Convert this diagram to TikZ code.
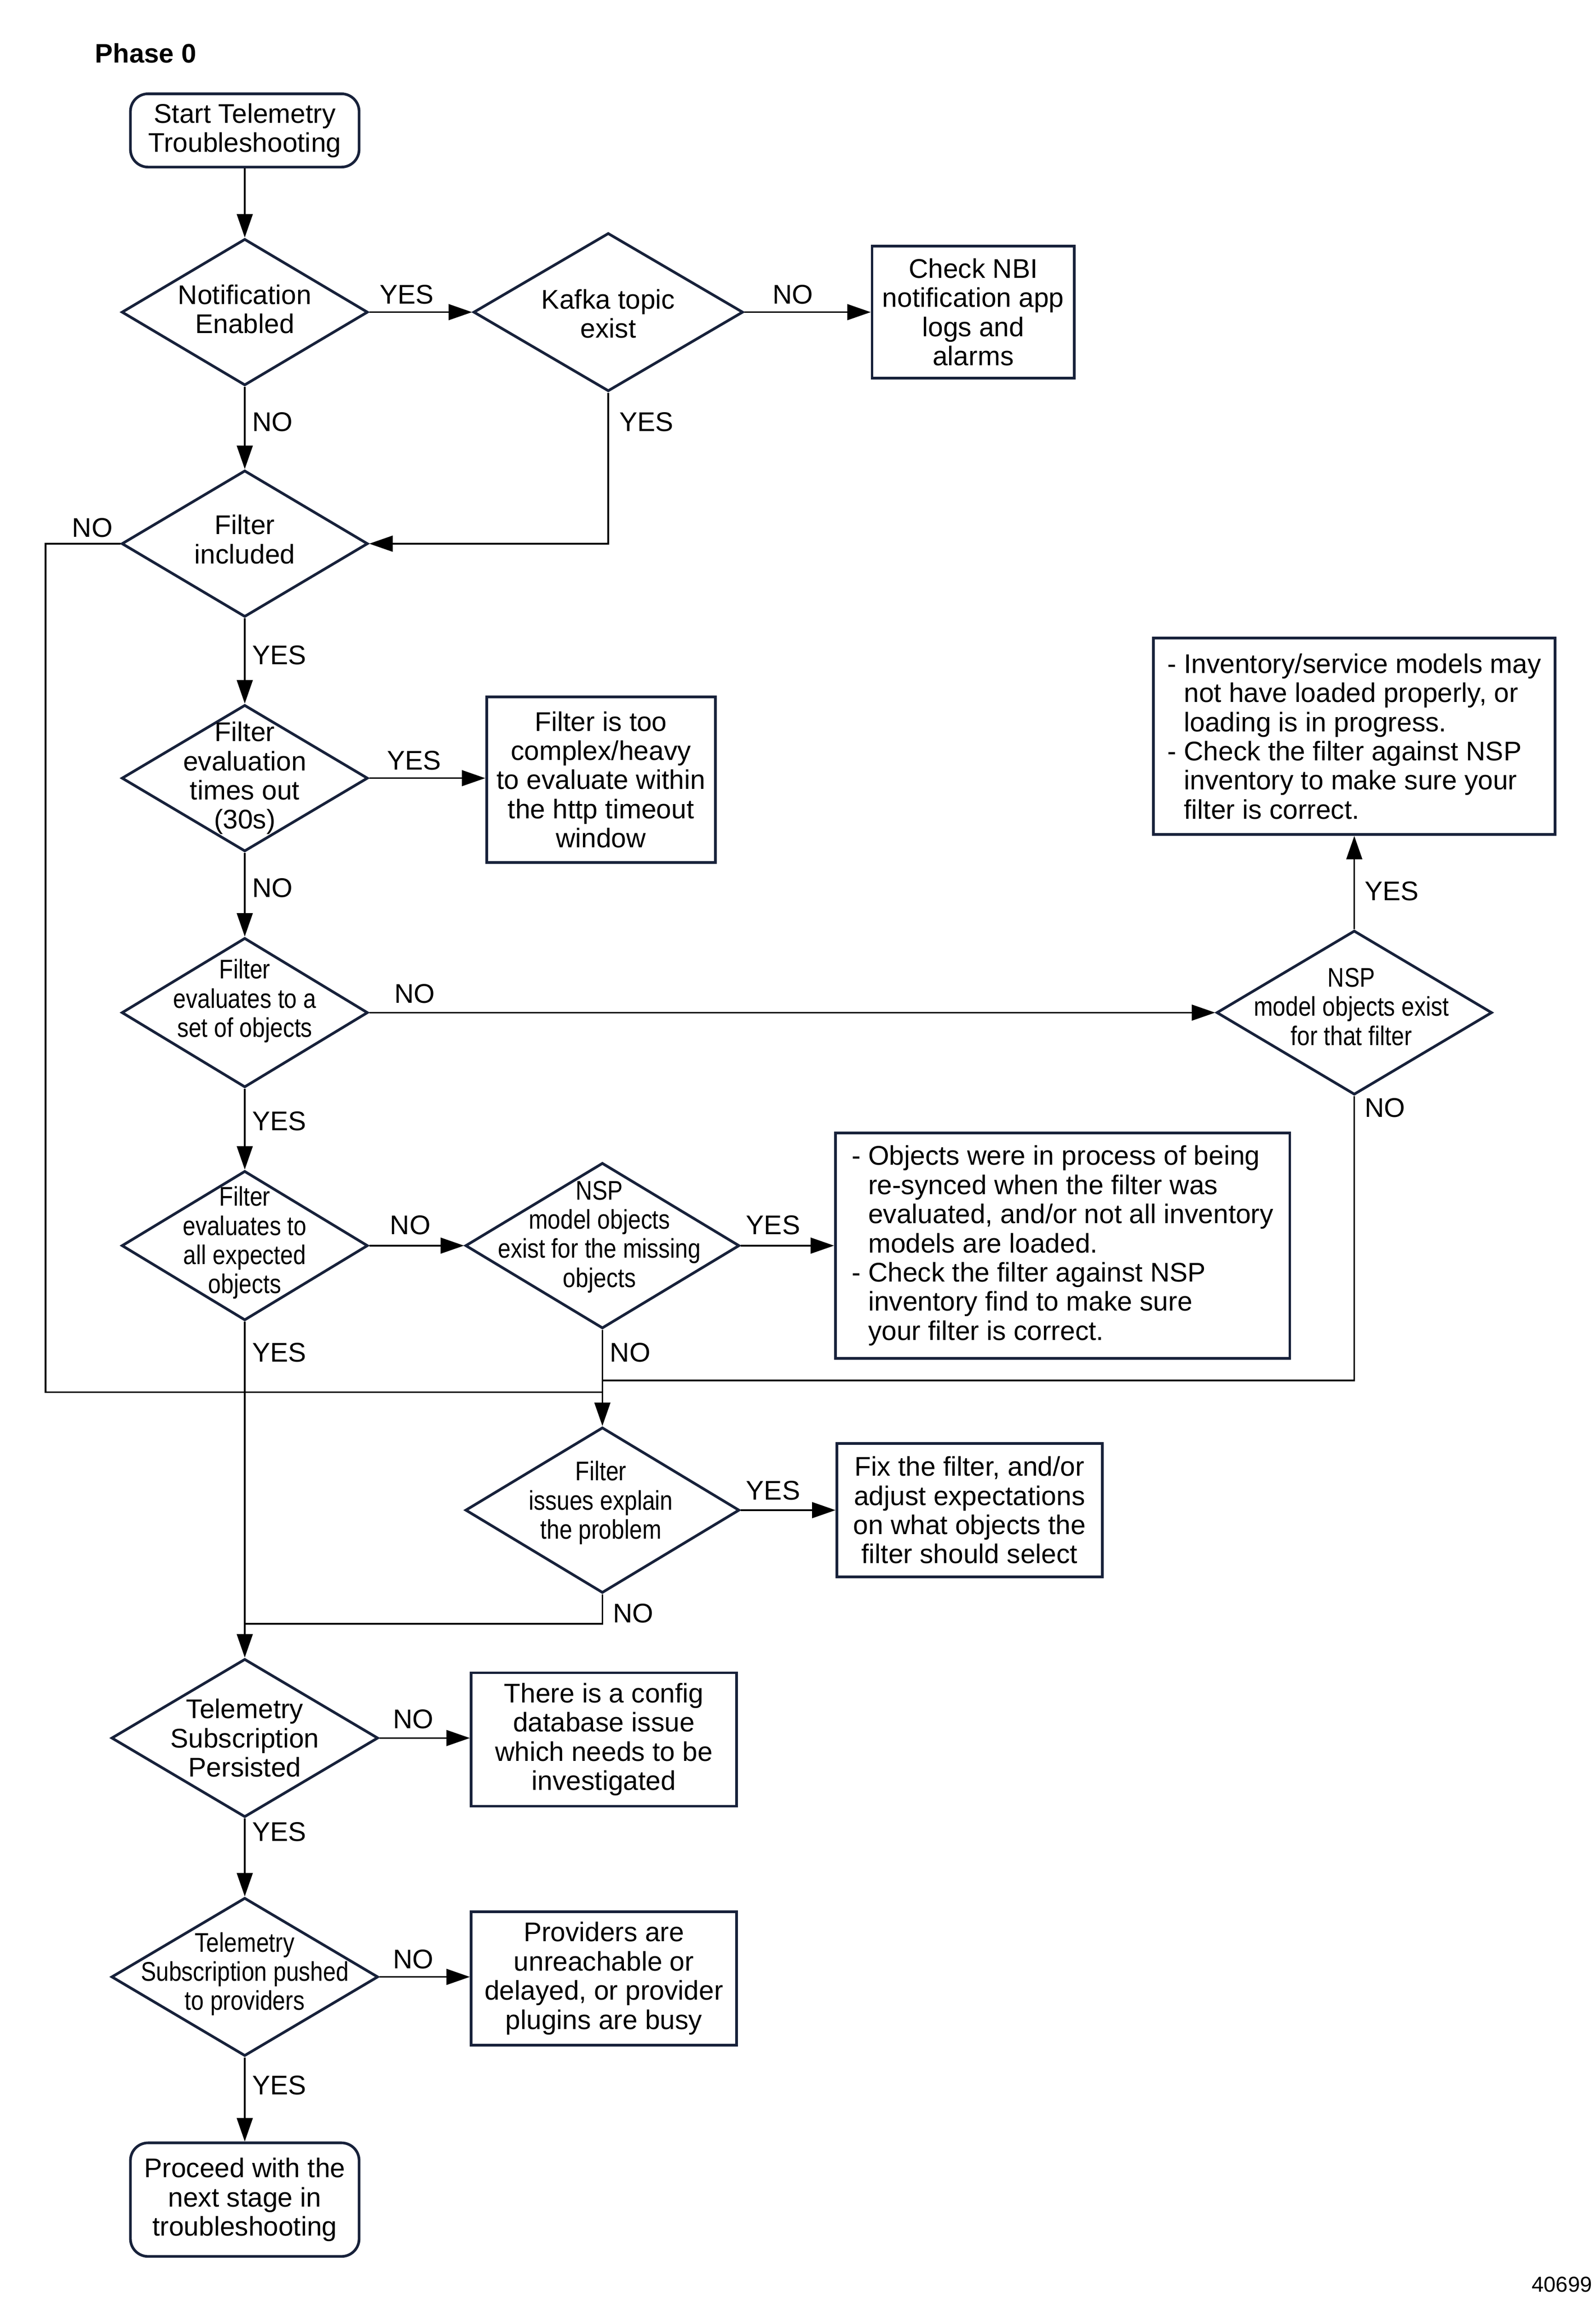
\documentclass[tikz,border=0pt]{standalone}
\usepackage{fontspec}
\setmainfont{Liberation Sans}
\newfontfamily\condfont{Liberation Sans}[FakeStretch=0.85]
\usetikzlibrary{shapes.geometric,arrows.meta}
\definecolor{navy}{HTML}{17213A}
\newcommand\mainsz{\fontsize{13.1}{14.15}\selectfont}
\newcommand\condsz{\condfont\fontsize{13.1}{14.15}\selectfont}
\newcommand\hang{\hspace*{0.611em}}
\begin{document}
\begin{tikzpicture}[x=0.025cm,y=-0.025cm,
  shp/.style={draw=navy, line width=1.3pt, fill=white},
  dia/.style={shp, diamond, inner sep=0pt},
  box/.style={shp, rectangle, inner sep=0pt, align=center, font=\mainsz},
  rbox/.style={box, rounded corners=0.3cm},
  wh/.style 2 args={minimum width=#1*0.025cm, minimum height=#2*0.025cm},
  txt/.style={align=center, inner sep=0pt, font=\mainsz},
  ctxt/.style={align=center, inner sep=0pt, font=\condsz},
  lbl/.style={inner sep=0pt, font=\mainsz},
  ln/.style={draw=black, line width=0.8pt},
  arr/.style={ln, -{Triangle[length=0.4cm,width=0.27cm]}},
]
\fill[white] (0,0) rectangle (1088.9,1569.5);
\useasboundingbox (0,0) rectangle (1088.9,1569.5);

\node[anchor=west, inner sep=0pt, font=\bfseries\fontsize{13}{15}\selectfont] (phase) at (64.6,36.4) {Phase 0};

% ---- shapes ----
\node[rbox, wh={156}{50}] (start) at (167,89) {Start Telemetry\\Troubleshooting};

\node[dia, wh={168}{100}] (notif) at (167,213) {};
\node[txt] (notift) at (167,211) {Notification\\Enabled};

\node[dia, wh={184}{108}] (kafka) at (415,213) {};
\node[txt] (kafkat) at (415,214) {Kafka topic\\exist};

\node[box, wh={138}{90}] (nbi) at (664,213) {Check NBI\\notification app\\logs and\\alarms};

\node[dia, wh={168}{100}] (fincl) at (167,371) {};
\node[txt] (finclt) at (167,368) {Filter\\included};

\node[dia, wh={168}{100}] (tmout) at (167,531) {};
\node[txt] (tmoutt) at (167,531) {Filter\\evaluation\\times out\\(30s)};

\node[box, wh={156}{113}] (cplx) at (410,532) {Filter is too\\complex/heavy\\to evaluate within\\the http timeout\\window};

\node[dia, wh={168}{102}] (fset) at (167,691) {};
\node[ctxt] (fsett) at (167,683) {Filter\\evaluates to a\\set of objects};

\node[dia, wh={188}{112}] (nspa) at (924,691) {};
\node[ctxt] (nspat) at (922,687) {NSP\\model objects exist\\for that filter};

\node[box, wh={274}{134}, align=left] (inv) at (924,502.5) {- Inventory/service models may\\\hang not have loaded properly, or\\\hang loading is in progress.\\- Check the filter against NSP\\\hang inventory to make sure your\\\hang filter is correct.};

\node[dia, wh={168}{102}] (fall) at (167,850) {};
\node[ctxt] (fallt) at (167,848) {Filter\\evaluates to\\all expected\\objects};

\node[dia, wh={187}{113}] (nspb) at (411,850) {};
\node[ctxt] (nspbt) at (409,844) {NSP\\model objects\\exist for the missing\\objects};

\node[box, wh={310}{154}, align=left] (objs) at (725,850) {- Objects were in process of being\\\hang re-synced when the filter was\\\hang evaluated, and/or not all inventory\\\hang models are loaded.\\- Check the filter against NSP\\\hang inventory find to make sure\\\hang your filter is correct.};

\node[dia, wh={187}{113}] (fiss) at (411,1030.5) {};
\node[ctxt] (fisst) at (410,1025.5) {Filter\\issues explain\\the problem};

\node[box, wh={181}{91}] (fix) at (661.5,1030.5) {Fix the filter, and/or\\adjust expectations\\on what objects the\\filter should select};

\node[dia, wh={182}{108}] (pers) at (167,1186) {};
\node[txt] (perst) at (167,1186) {Telemetry\\Subscription\\Persisted};

\node[box, wh={181}{91}] (cfg) at (412,1187) {There is a config\\database issue\\which needs to be\\investigated};

\node[dia, wh={182}{108}] (push) at (167,1349) {};
\node[ctxt] (pusht) at (167,1347) {Telemetry\\Subscription pushed\\to providers};

\node[box, wh={181}{91}] (prov) at (412,1350) {Providers are\\unreachable or\\delayed, or provider\\plugins are busy};

\node[rbox, wh={156}{77.5}] (proc) at (167,1501) {Proceed with the\\next stage in\\troubleshooting};

\node[anchor=east, inner sep=0pt, font=\fontsize{10.5}{12}\selectfont] (fig) at (1086.5,1559) {40699};

% ---- join points ----
\coordinate (lpc) at (31,950);
\coordinate (j1) at (411,950);
\coordinate (j2) at (411,942);
\coordinate (j3) at (167,1108);

% ---- connectors ----
\draw[arr] (start.south) -- (notif.north);
\draw[arr] (notif.east) -- (kafka.west);
\draw[arr] (kafka.east) -- (nbi.west);
\draw[arr] (notif.south) -- (fincl.north);
\draw[arr] (kafka.south) |- (fincl.east);
\draw[ln] (fincl.west) -| (lpc) -- (j1);
\draw[arr] (fincl.south) -- (tmout.north);
\draw[arr] (tmout.east) -- (tmout.east -| cplx.west);
\draw[arr] (tmout.south) -- (fset.north);
\draw[arr] (fset.east) -- (nspa.west);
\draw[arr] (nspa.north) -- (inv.south);
\draw[ln] (nspa.south) |- (j2);
\draw[arr] (fset.south) -- (fall.north);
\draw[arr] (fall.east) -- (nspb.west);
\draw[arr] (nspb.east) -- (nspb.east -| objs.west);
\draw[arr] (nspb.south) -- (fiss.north);
\draw[arr] (fiss.east) -- (fix.west);
\draw[ln] (fiss.south) |- (j3);
\draw[arr] (fall.south) -- (pers.north);
\draw[arr] (pers.east) -- (pers.east -| cfg.west);
\draw[arr] (pers.south) -- (push.north);
\draw[arr] (push.east) -- (push.east -| prov.west);
\draw[arr] (push.south) -- (proc.north);

% ---- labels ----
\node[lbl] (l1) at (277.5,201) {YES};
\node[lbl] (l2) at (541,201) {NO};
\node[lbl] (l3) at (186,288) {NO};
\node[lbl] (l4) at (441,288) {YES};
\node[lbl] (l5) at (63,360) {NO};
\node[lbl] (l6) at (190.5,447) {YES};
\node[lbl] (l7) at (282.5,519) {YES};
\node[lbl] (l8) at (186,606) {NO};
\node[lbl] (l9) at (283,678) {NO};
\node[lbl] (l10) at (190.5,765) {YES};
\node[lbl] (l11) at (949.5,608) {YES};
\node[lbl] (l12) at (945,756) {NO};
\node[lbl] (l13) at (280,836) {NO};
\node[lbl] (l14) at (527.5,836) {YES};
\node[lbl] (l15) at (190.5,923) {YES};
\node[lbl] (l16) at (430,923) {NO};
\node[lbl] (l17) at (527.5,1017) {YES};
\node[lbl] (l18) at (432,1101) {NO};
\node[lbl] (l19) at (282,1173) {NO};
\node[lbl] (l20) at (190.5,1250) {YES};
\node[lbl] (l21) at (282,1337) {NO};
\node[lbl] (l22) at (190.5,1423) {YES};
\end{tikzpicture}
\end{document}
